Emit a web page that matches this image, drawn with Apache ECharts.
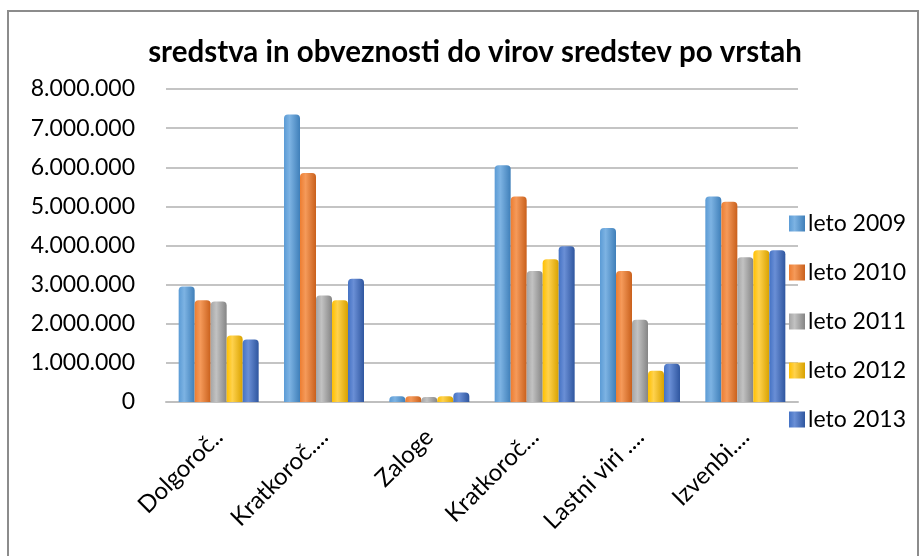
<!DOCTYPE html>
<html>
<head>
<meta charset="utf-8">
<script src="https://cdn.jsdelivr.net/npm/echarts@6/dist/echarts.min.js"></script>
<style>
    html, body { margin: 0; padding: 0; background: #fff; }
    #chart { width: 923px; height: 556px; }
</style>
</head>
<body>
<div id="chart"></div>
<script>
    var categories = ['Dolgoroč..', 'Kratkoroč....', 'Zaloge', 'Kratkoroč...', 'Lastni viri ....', 'Izvenbi....'];
    var years = ['leto 2009', 'leto 2010', 'leto 2011', 'leto 2012', 'leto 2013'];
    var leto2009 = [2950000, 7350000, 150000, 6050000, 4450000, 5250000];
    var leto2010 = [2600000, 5850000, 150000, 5250000, 3350000, 5120000];
    var leto2011 = [2570000, 2720000, 130000, 3350000, 2100000, 3700000];
    var leto2012 = [1700000, 2600000, 150000, 3650000, 800000, 3880000];
    var leto2013 = [1600000, 3150000, 240000, 3980000, 980000, 3880000];
    var yTicks = [0, 1000000, 2000000, 3000000, 4000000, 5000000, 6000000, 7000000, 8000000];

    var seriesData = [leto2009, leto2010, leto2011, leto2012, leto2013];
    var colors = ['#5B9BD5', '#ED7D31', '#A5A5A5', '#FFC000', '#4472C4'];
    var darker = ['#3f7fb9', '#c9601c', '#858585', '#d9a200', '#2f569f'];
    var lighter = ['#7db3e3', '#f59a5a', '#c2c2c2', '#ffd24d', '#6a8fd6'];

    var fontName = 'Lato, "Open Sans", sans-serif';

    function fmt(v) {
        return String(v).replace(/\B(?=(\d{3})+(?!\d))/g, '.');
    }

    var series = [];
    for (var i = 0; i < years.length; i++) {
        series.push({
            name: years[i],
            type: 'bar',
            barWidth: 16,
            barGap: '0%',
            data: seriesData[i],
            itemStyle: {
                color: new echarts.graphic.LinearGradient(0, 0, 1, 0, [
                    {offset: 0, color: colors[i]},
                    {offset: 0.35, color: lighter[i]},
                    {offset: 1, color: darker[i]}
                ]),
                borderRadius: [4, 4, 0, 0]
            }
        });
    }

    var myChart = echarts.init(document.getElementById('chart'));
    var option = {
        animation: false,
        color: colors,
        title: {
            text: 'sredstva in obveznosti do virov sredstev po vrstah',
            left: 470,
            textAlign: 'center',
            top: 32,
            textStyle: {
                fontFamily: fontName,
                fontSize: 29.5,
                fontWeight: 'bold',
                color: '#000'
            }
        },
        legend: {
            orient: 'vertical',
            left: 784,
            top: 207,
            itemWidth: 16,
            itemHeight: 16,
            itemGap: 26,
            icon: 'rect',
            data: years,
            textStyle: {
                fontFamily: fontName,
                fontSize: 23,
                color: '#000',
                padding: [0, 0, 0, -2]
            }
        },
        grid: {
            left: 166,
            right: 125,
            top: 89,
            bottom: 154
        },
        xAxis: {
            type: 'category',
            data: categories,
            axisLine: {lineStyle: {color: '#bfbfbf', width: 2}},
            axisTick: {show: false},
            axisLabel: {
                rotate: 45,
                margin: 31,
                interval: 0,
                fontFamily: fontName,
                fontSize: 24,
                color: '#000'
            }
        },
        yAxis: {
            type: 'value',
            min: yTicks[0],
            max: yTicks[yTicks.length - 1],
            interval: yTicks[1] - yTicks[0],
            axisLine: {show: false},
            axisTick: {show: false},
            splitLine: {lineStyle: {color: '#c4c4c4', width: 2}},
            axisLabel: {
                margin: 31,
                fontFamily: fontName,
                fontSize: 23,
                color: '#000',
                formatter: function (v) { return fmt(v); }
            }
        },
        graphic: [{
            type: 'rect',
            shape: {x: 8, y: 11, width: 910, height: 560},
            style: {fill: null, stroke: '#8c8c8c', lineWidth: 2},
            silent: true
        }],
        series: series
    };
    myChart.setOption(option);
</script>
</body>
</html>
